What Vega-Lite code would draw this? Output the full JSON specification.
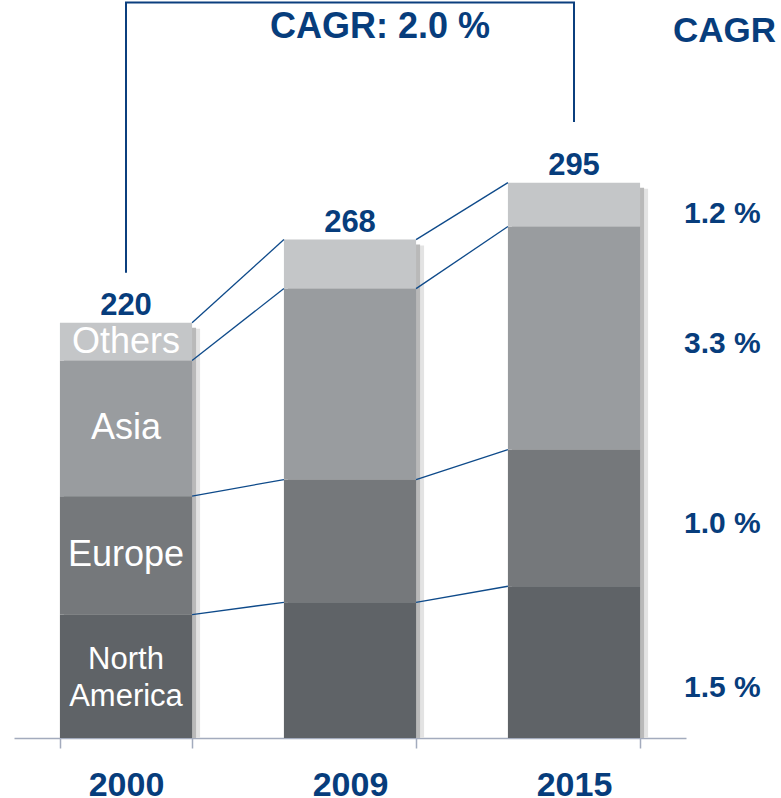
{
  "$schema": "https://vega.github.io/schema/vega-lite/v6.json",
  "width": 672,
  "height": 738,
  "autosize": "none",
  "padding": {"left": 14, "top": 0, "right": 95, "bottom": 60},
  "config": {"view": {"stroke": null}, "font": "Liberation Sans"},
  "datasets": {
    "regions": [
      {"year": "2000", "region": "North America", "order": 1, "value": 65.5},
      {"year": "2000", "region": "Europe", "order": 2, "value": 62.8},
      {"year": "2000", "region": "Asia", "order": 3, "value": 72.0},
      {"year": "2000", "region": "Others", "order": 4, "value": 20.0},
      {"year": "2009", "region": "North America", "order": 1, "value": 72.0},
      {"year": "2009", "region": "Europe", "order": 2, "value": 65.1},
      {"year": "2009", "region": "Asia", "order": 3, "value": 101.3},
      {"year": "2009", "region": "Others", "order": 4, "value": 26.0},
      {"year": "2015", "region": "North America", "order": 1, "value": 80.5},
      {"year": "2015", "region": "Europe", "order": 2, "value": 72.5},
      {"year": "2015", "region": "Asia", "order": 3, "value": 118.3},
      {"year": "2015", "region": "Others", "order": 4, "value": 23.3}
    ],
    "totals": [
      {"year": "2000", "total": "220"},
      {"year": "2009", "total": "268"},
      {"year": "2015", "total": "295"}
    ],
    "cagr": [
      {"label": "1.2 %", "pos": 273.2},
      {"label": "3.3 %", "pos": 204.2},
      {"label": "1.0 %", "pos": 108.8},
      {"label": "1.5 %", "pos": 21.8}
    ],
    "bracket": [
      {"year": "2000", "v": 246.8, "k": 1},
      {"year": "2000", "v": 390.2, "k": 2},
      {"year": "2015", "v": 390.2, "k": 3},
      {"year": "2015", "v": 326.8, "k": 4}
    ]
  },
  "layer": [
    {
      "data": {"name": "regions"},
      "mark": {"type": "bar", "color": "#e3e3e3", "xOffset": 8, "yOffset": 6},
      "encoding": {
        "x": {
          "field": "year", "type": "nominal",
          "scale": {"domain": ["2000", "2009", "2015"], "paddingInner": 0.41, "paddingOuter": 0.205},
          "axis": {
            "title": null, "labelAngle": 0, "labelFontSize": 34, "labelFontWeight": "bold",
            "labelColor": "#073d7c", "labelFont": "Liberation Sans", "labelBaseline": "alphabetic",
            "labelPadding": 47, "tickBand": "extent", "tickSize": 10, "tickColor": "#a3abbd",
            "domainColor": "#a3abbd", "domainWidth": 1.5, "tickWidth": 1.5, "grid": false
          }
        },
        "y": {
          "aggregate": "sum", "field": "value", "type": "quantitative",
          "scale": {"domain": [0, 391.5], "nice": false, "zero": true}, "axis": null
        }
      }
    },
    {
      "data": {"name": "regions"},
      "mark": {"type": "bar", "color": "#b9b9b9", "xOffset": 4, "yOffset": 5},
      "encoding": {
        "x": {"field": "year", "type": "nominal"},
        "y": {"aggregate": "sum", "field": "value", "type": "quantitative"}
      }
    },
    {
      "data": {"name": "regions"},
      "mark": {"type": "bar"},
      "encoding": {
        "x": {"field": "year", "type": "nominal"},
        "y": {"field": "value", "type": "quantitative", "stack": "zero"},
        "order": {"field": "order", "type": "quantitative"},
        "color": {
          "field": "region", "type": "nominal", "legend": null,
          "scale": {
            "domain": ["North America", "Europe", "Asia", "Others"],
            "range": ["#5f6367", "#75787b", "#999c9f", "#c4c6c8"]
          }
        }
      }
    },
    {
      "data": {"name": "regions"},
      "transform": [{"filter": "datum.year == '2000'"}],
      "mark": {"type": "text", "color": "white", "fontSize": 36, "baseline": "middle", "font": "Liberation Sans"},
      "encoding": {
        "x": {"field": "year", "type": "nominal"},
        "y": {"field": "value", "type": "quantitative", "stack": "zero", "bandPosition": 0.5},
        "detail": {"field": "region", "type": "nominal"},
        "order": {"field": "order", "type": "quantitative"},
        "text": {"condition": {"test": "datum.region != 'North America'", "field": "region"}, "value": ""}
      }
    },
    {
      "data": {"name": "regions"},
      "transform": [{"filter": "datum.year == '2000'"}],
      "mark": {"type": "text", "color": "white", "fontSize": 31, "baseline": "middle", "lineBreak": " ", "lineHeight": 37, "dy": -16, "font": "Liberation Sans"},
      "encoding": {
        "x": {"field": "year", "type": "nominal"},
        "y": {"field": "value", "type": "quantitative", "stack": "zero", "bandPosition": 0.5},
        "detail": {"field": "region", "type": "nominal"},
        "order": {"field": "order", "type": "quantitative"},
        "text": {"condition": {"test": "datum.region == 'North America'", "field": "region"}, "value": ""}
      }
    },
    {
      "data": {"name": "regions"},
      "transform": [
        {"stack": "value", "groupby": ["year"], "sort": [{"field": "order"}], "as": ["v0", "v1"]},
        {"window": [{"op": "lead", "field": "v1", "as": "nv"}, {"op": "lead", "field": "year", "as": "nyear"}], "groupby": ["region"], "sort": [{"field": "year"}]},
        {"filter": "datum.nyear != null"}
      ],
      "mark": {"type": "rule", "color": "#0e4a8a", "strokeWidth": 1.3},
      "encoding": {
        "x": {"field": "year", "type": "nominal", "bandPosition": 1},
        "x2": {"field": "nyear", "bandPosition": 0},
        "y": {"field": "v1", "type": "quantitative"},
        "y2": {"field": "nv"}
      }
    },
    {
      "data": {"name": "regions"},
      "transform": [
        {"aggregate": [{"op": "sum", "field": "value", "as": "top"}], "groupby": ["year"]},
        {"lookup": "year", "from": {"data": {"name": "totals"}, "key": "year", "fields": ["total"]}}
      ],
      "mark": {"type": "text", "color": "#073d7c", "fontSize": 31, "fontWeight": "bold", "baseline": "alphabetic", "dy": -8, "font": "Liberation Sans"},
      "encoding": {
        "x": {"field": "year", "type": "nominal"},
        "y": {"field": "top", "type": "quantitative"},
        "text": {"field": "total"}
      }
    },
    {
      "data": {"name": "bracket"},
      "mark": {"type": "line", "color": "#0b3f7e", "strokeWidth": 2, "strokeJoin": "miter"},
      "encoding": {
        "x": {"field": "year", "type": "nominal"},
        "y": {"field": "v", "type": "quantitative"},
        "order": {"field": "k", "type": "quantitative"}
      }
    },
    {
      "data": {"values": [{"t": "CAGR: 2.0 %"}]},
      "mark": {"type": "text", "color": "#073d7c", "fontSize": 36, "fontWeight": "bold", "baseline": "alphabetic", "align": "center", "dx": 30, "font": "Liberation Sans"},
      "encoding": {
        "x": {"datum": "2009", "type": "nominal"},
        "y": {"datum": 371.4, "type": "quantitative"},
        "text": {"field": "t"}
      }
    },
    {
      "data": {"values": [{"t": "CAGR"}]},
      "mark": {"type": "text", "color": "#073d7c", "fontSize": 35, "fontWeight": "bold", "baseline": "alphabetic", "align": "left", "dx": 99, "font": "Liberation Sans"},
      "encoding": {
        "x": {"datum": "2015", "type": "nominal"},
        "y": {"datum": 369.2, "type": "quantitative"},
        "text": {"field": "t"}
      }
    },
    {
      "data": {"name": "cagr"},
      "mark": {"type": "text", "color": "#073d7c", "fontSize": 30, "fontWeight": "bold", "baseline": "alphabetic", "align": "left", "dx": 110, "font": "Liberation Sans"},
      "encoding": {
        "x": {"datum": "2015", "type": "nominal"},
        "y": {"field": "pos", "type": "quantitative"},
        "text": {"field": "label"}
      }
    }
  ]
}
